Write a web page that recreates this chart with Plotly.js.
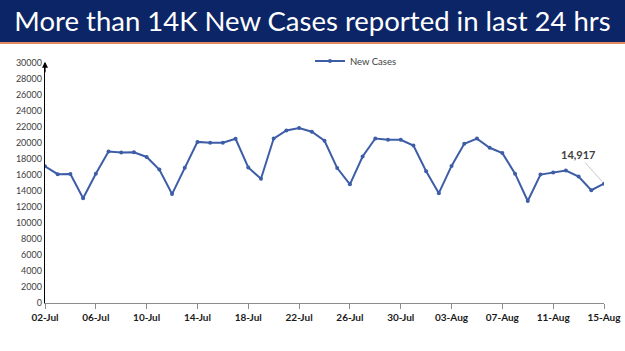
<!DOCTYPE html>
<html>
<head>
<meta charset="utf-8">
<script src="https://cdn.plot.ly/plotly-3.0.1.min.js"></script>
<style>
html,body{margin:0;padding:0;background:#fff;}
#chart{width:625px;height:351px;}
</style>
</head>
<body>
<div id="chart"></div>
<script>
const dates = ["02-Jul","03-Jul","04-Jul","05-Jul","06-Jul","07-Jul","08-Jul","09-Jul","10-Jul","11-Jul","12-Jul","13-Jul","14-Jul","15-Jul","16-Jul","17-Jul","18-Jul","19-Jul","20-Jul","21-Jul","22-Jul","23-Jul","24-Jul","25-Jul","26-Jul","27-Jul","28-Jul","29-Jul","30-Jul","31-Jul","01-Aug","02-Aug","03-Aug","04-Aug","05-Aug","06-Aug","07-Aug","08-Aug","09-Aug","10-Aug","11-Aug","12-Aug","13-Aug","14-Aug","15-Aug"];
const newCases = [17092,16103,16135,13086,16159,18930,18815,18840,18257,16678,13615,16906,20139,20038,20044,20528,16935,15528,20557,21566,21880,21411,20279,16866,14830,18313,20557,20409,20408,19673,16464,13734,17135,19893,20551,19406,18738,16167,12751,16047,16299,16561,15815,14092,14917];
const tickLabels = ["02-Jul","06-Jul","10-Jul","14-Jul","18-Jul","22-Jul","26-Jul","30-Jul","03-Aug","07-Aug","11-Aug","15-Aug"];
const yTicks = [0,2000,4000,6000,8000,10000,12000,14000,16000,18000,20000,22000,24000,26000,28000,30000];
const seriesName = "New Cases";
const titleText = "More than 14K New Cases reported in last 24 hrs";
const lastLabel = "14,917";

const W = 625, H = 351;
const m = {l:45, r:21, t:63, b:48};
const pw = W - m.l - m.r, ph = H - m.t - m.b;
const px = x => (x - m.l) / pw;
const py = y => (H - m.b - y) / ph;
const FONT = 'Lato, "Open Sans", sans-serif';

const trace = {
  x: dates, y: newCases, type: 'scatter', mode: 'lines+markers', name: seriesName,
  line: {color: '#3d5da6', width: 2},
  marker: {color: '#3d5da6', size: 4}
};

const layout = {
  width: W, height: H,
  margin: m,
  paper_bgcolor: '#ffffff', plot_bgcolor: '#ffffff',
  title: {text: titleText, x: 0.5, xanchor: 'center', y: 1 - 21/H, yanchor: 'middle', yref: 'container',
          font: {family: FONT, size: 27.5, color: '#ffffff'}},
  showlegend: true,
  legend: {orientation: 'h', x: px(310), xanchor: 'left', y: py(61), yanchor: 'middle',
           font: {family: FONT, size: 9.5, color: '#404040'},
           bgcolor: 'rgba(0,0,0,0)', itemwidth: 30},
  xaxis: {
    type: 'category', range: [0, dates.length - 1],
    tickmode: 'array', tickvals: tickLabels, ticktext: tickLabels,
    showline: true, linecolor: '#8c8c8c', linewidth: 1,
    ticks: 'outside', ticklen: 5, tickcolor: '#8c8c8c',
    showgrid: false, zeroline: false,
    tickfont: {family: FONT, size: 10, color: '#1a1a1a', weight: 'bold'}
  },
  yaxis: {
    range: [0, 30000], tickmode: 'array', tickvals: yTicks, ticktext: yTicks.map(String),
    showline: true, linecolor: '#000000', linewidth: 1.2,
    ticks: '', showgrid: false, zeroline: false,
    tickfont: {family: FONT, size: 9, color: '#404040'}
  },
  shapes: [
    {type: 'rect', xref: 'paper', yref: 'paper', x0: px(0), x1: px(W), y0: py(42), y1: py(0),
     fillcolor: '#0c2566', line: {width: 0}, layer: 'below'},
    {type: 'rect', xref: 'paper', yref: 'paper', x0: px(0), x1: px(W), y0: py(44), y1: py(42),
     fillcolor: '#e08a5e', line: {width: 0}, layer: 'below'}
  ],
  annotations: [
    {x: dates[dates.length - 1], y: newCases[newCases.length - 1], xref: 'x', yref: 'y',
     text: '<b>' + lastLabel + '</b>', showarrow: true, arrowhead: 0, arrowwidth: 1, arrowcolor: '#c8c8c8',
     ax: -26, ay: -29, standoff: 3,
     font: {family: FONT, size: 11, color: '#404040'}},
    {x: 0, y: 1.005, xref: 'paper', yref: 'paper', text: '', showarrow: true, arrowhead: 2, arrowsize: 1,
     arrowwidth: 1.2, arrowcolor: '#000000', ax: 0, ay: 12, standoff: 0}
  ]
};

Plotly.newPlot('chart', [trace], layout, {displayModeBar: false, staticPlot: true});
</script>
</body>
</html>
